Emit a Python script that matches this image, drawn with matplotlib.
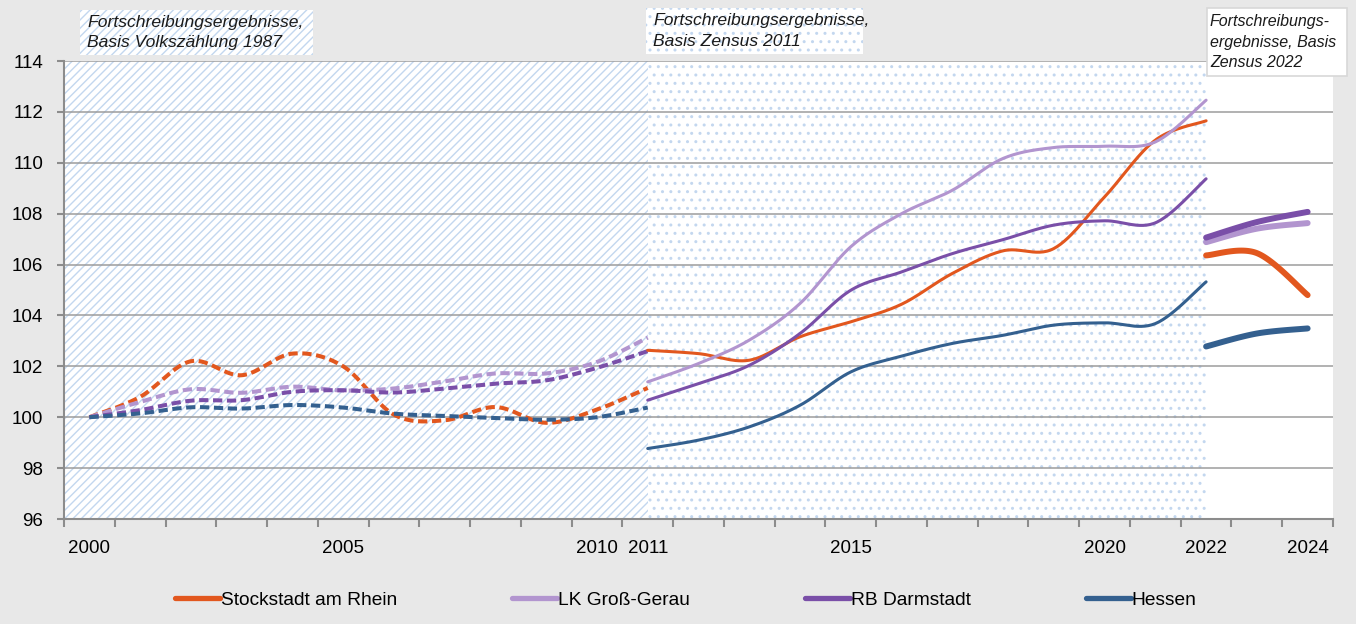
import numpy as np
import matplotlib.pyplot as plt
from matplotlib.patches import Rectangle
from matplotlib.lines import Line2D

plt.rcParams['font.family'] = ['Liberation Sans', 'DejaVu Sans']
plt.rcParams['hatch.linewidth'] = 1.0

# Fortschreibung Basis Volkszaehlung 1987 (2000-2011)
years_vz = list(range(2000, 2012))
stock_vz = [100.0, 100.8, 102.2, 101.65, 102.5, 102.0, 100.1, 99.88, 100.4, 99.78, 100.3, 101.15]
gg_vz = [100.0, 100.6, 101.1, 100.96, 101.2, 101.05, 101.13, 101.41, 101.72, 101.72, 102.17, 103.13]
rbd_vz = [100.0, 100.28, 100.65, 100.67, 101.0, 101.06, 100.97, 101.13, 101.32, 101.45, 101.94, 102.6]
hes_vz = [100.0, 100.15, 100.39, 100.34, 100.48, 100.38, 100.14, 100.05, 99.97, 99.9, 100.0, 100.38]

# Fortschreibung Basis Zensus 2011 (2011-2022)
years_z11 = list(range(2011, 2023))
stock_z11 = [102.63, 102.5, 102.24, 103.16, 103.75, 104.44, 105.65, 106.54, 106.63, 108.66, 110.89, 111.65]
gg_z11 = [101.39, 102.11, 103.03, 104.47, 106.7, 108.0, 108.92, 110.17, 110.6, 110.65, 110.82, 112.46]
rbd_z11 = [100.67, 101.32, 102.04, 103.29, 104.99, 105.71, 106.43, 106.98, 107.55, 107.72, 107.64, 109.37]
hes_z11 = [98.77, 99.1, 99.62, 100.47, 101.78, 102.4, 102.9, 103.22, 103.62, 103.71, 103.68, 105.32]

# Fortschreibung Basis Zensus 2022 (2022-2024)
years_z22 = [2022, 2023, 2024]
stock_z22 = [106.36, 106.45, 104.8]
gg_z22 = [106.88, 107.41, 107.63]
rbd_z22 = [107.06, 107.67, 108.07]
hes_z22 = [102.78, 103.29, 103.49]

names = ['Stockstadt am Rhein', 'LK Groß-Gerau', 'RB Darmstadt', 'Hessen']
colors = ['#E2571E', '#B295CF', '#7A4FA8', '#34608F']
xlabels = [2000, 2005, 2010, 2011, 2015, 2020, 2022, 2024]


def smooth(x, y, n=30):
    # Excel-like smoothed line (Catmull-Rom as Bezier)
    pts = np.column_stack([x, y]).astype(float)
    ext = np.vstack([pts[0], pts, pts[-1]])
    t = np.linspace(0, 1, n)[:, None]
    out = []
    for i in range(len(pts) - 1):
        p0, p1 = pts[i], pts[i + 1]
        c1 = p0 + (ext[i + 2] - ext[i]) / 6
        c2 = p1 - (ext[i + 3] - ext[i + 1]) / 6
        seg = (1 - t)**3 * p0 + 3 * (1 - t)**2 * t * c1 + 3 * (1 - t) * t**2 * c2 + t**3 * p1
        out.append(seg if i == 0 else seg[1:])
    s = np.vstack(out)
    return s[:, 0], s[:, 1]


fig = plt.figure(figsize=(13.56, 6.24), dpi=100, facecolor='#E8E8E8')
ax = fig.add_axes([64 / 1356, 1 - 519 / 624, (1333 - 64) / 1356, (519 - 61) / 624])
ax.set_facecolor('white')

hatch_col = '#C3D7EF'
ax.axvspan(1999.5, 2011, facecolor='white', edgecolor=hatch_col, hatch='////', lw=0, zorder=0.1)
ax.axvspan(2011, 2022, facecolor='white', edgecolor=hatch_col, hatch='..', lw=0, zorder=0.1)

for vals, c in zip([stock_vz, gg_vz, rbd_vz, hes_vz], colors):
    xs, ys = smooth(years_vz, vals)
    ax.plot(xs, ys, color=c, lw=2.9, dashes=(2.3, 1.15), zorder=3)
for vals, c in zip([stock_z11, gg_z11, rbd_z11, hes_z11], colors):
    xs, ys = smooth(years_z11, vals)
    ax.plot(xs, ys, color=c, lw=2.2, solid_capstyle='round', zorder=3)
for vals, c in zip([stock_z22, gg_z22, rbd_z22, hes_z22], colors):
    xs, ys = smooth(years_z22, vals)
    ax.plot(xs, ys, color=c, lw=4.3, solid_capstyle='round', zorder=3)

ax.set_xlim(1999.5, 2024.5)
ax.set_ylim(96, 114)
ax.set_yticks(np.arange(96, 115, 2))
ax.set_xticks(xlabels)
ax.set_xticks(np.arange(1999.5, 2025, 1), minor=True)
ax.grid(axis='y', color='#9C9C9C', lw=1.1)
ax.set_axisbelow(True)
for s in ['top', 'right']:
    ax.spines[s].set_visible(False)
for s in ['left', 'bottom']:
    ax.spines[s].set_color('#8C8C8C')
    ax.spines[s].set_linewidth(1.5)
ax.tick_params(axis='x', which='major', length=0, pad=15, labelsize=13.5)
ax.tick_params(axis='x', which='minor', length=6, width=1.5, color='#8C8C8C', direction='out')
ax.tick_params(axis='y', length=5, width=1.5, color='#8C8C8C', pad=10, labelsize=13.5)

# annotation boxes
boxes = [((80, 10, 233, 45), '////', 'Fortschreibungsergebnisse,\nBasis Volkszählung 1987', 7, 12.6, 1.5),
         ((646, 8, 217, 46), '..', 'Fortschreibungsergebnisse,\nBasis Zensus 2011', 7, 12.6, 1.5),
         ((1207, 8, 140, 68), None, 'Fortschreibungs-\nergebnisse, Basis\nZensus 2022', 3, 11.5, 1.45)]
for (bx, by, bw, bh), hatch, txt, tx, fs, lsp in boxes:
    if hatch:
        r = Rectangle((bx / 1356, 1 - (by + bh) / 624), bw / 1356, bh / 624, transform=fig.transFigure,
                      facecolor='white', edgecolor=hatch_col, hatch=hatch, lw=0, zorder=5)
    else:
        r = Rectangle((bx / 1356, 1 - (by + bh) / 624), bw / 1356, bh / 624, transform=fig.transFigure,
                      facecolor='white', edgecolor='#D8D8D8', lw=1.2, zorder=5)
    fig.add_artist(r)
    fig.text((bx + tx) / 1356, 1 - (by + bh / 2) / 624, txt, ha='left', va='center', fontsize=fs,
             style='italic', color='#1A1A1A', linespacing=lsp, zorder=6)

handles = [Line2D([0], [0], color=c, lw=3.8, solid_capstyle='round') for c in colors]
fig.legend(handles, names, loc='center', bbox_to_anchor=(685.5 / 1356, 1 - 600 / 624), ncol=4,
           frameon=False, fontsize=13.8, handlelength=2.35, handletextpad=0.05, columnspacing=6.0)

fig.savefig('out.png', dpi=100, facecolor=fig.get_facecolor())
